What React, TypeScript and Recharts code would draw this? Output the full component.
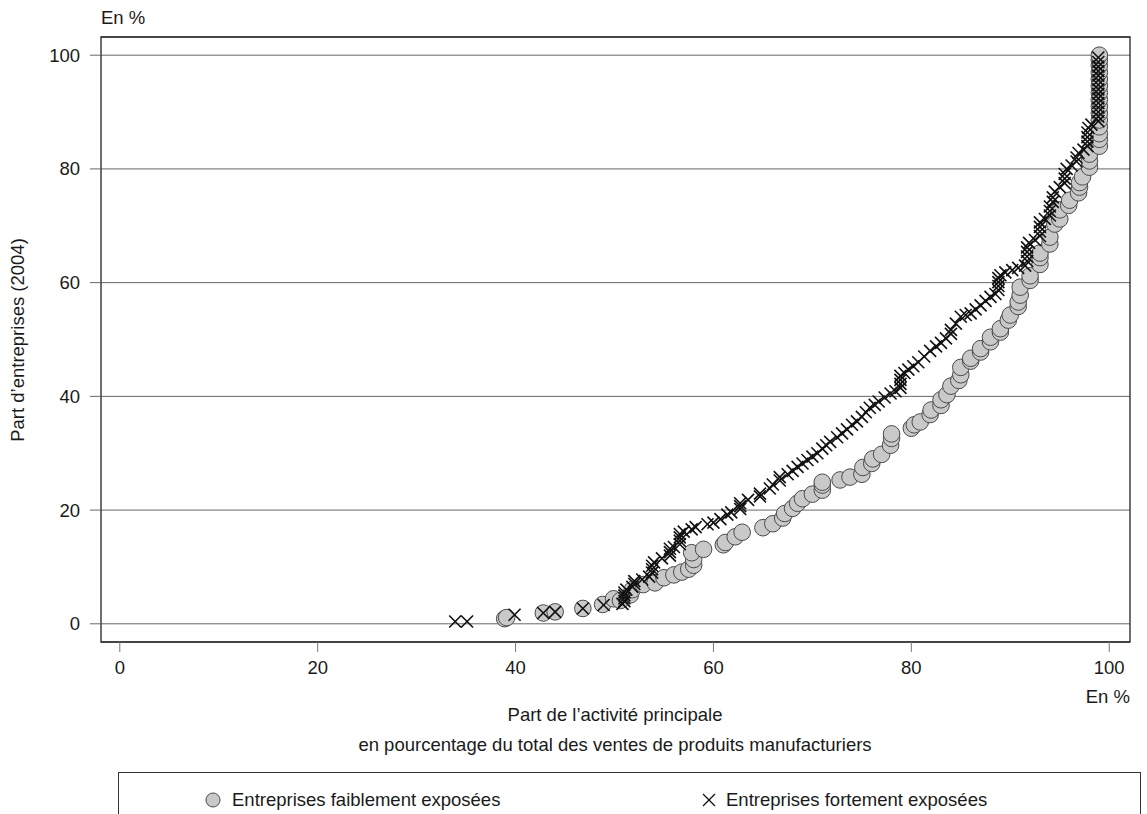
import React from "react";
import {
  ScatterChart,
  Scatter,
  XAxis,
  YAxis,
  CartesianGrid,
  ReferenceArea,
} from "recharts";

// [part de l'activité principale, part d'entreprises]
const faibles: [number, number][] = [
  [38.9, 0.9], [39.1, 1.1], [42.8, 1.9], [44, 2.1], [46.8, 2.7], [48.8, 3.4],
  [49.9, 4.4], [50.6, 4.1], [51.6, 5.1], [51.8, 6], [52.9, 6.9], [54.1, 7.2],
  [55, 8.1], [56, 8.6], [56.8, 9.1], [57.5, 9.6], [58, 10.3], [58, 11.3],
  [57.8, 12.5], [59, 13.1], [61, 13.9], [61.2, 14.3], [62.2, 15.3], [62.9, 16.1],
  [65, 16.9], [66, 17.6], [67, 18.6], [67.2, 19.4], [68, 20.3], [68.5, 21.2],
  [69, 22], [70, 22.8], [71, 23.5], [71, 24.4], [71, 24.9], [72.8, 25.3],
  [73.8, 25.8], [75, 26.3], [75.1, 27.5], [76, 28.2], [76.1, 29], [77, 29.8],
  [77.9, 31.4], [78, 32.6], [78, 33.4], [80, 34.4], [80.3, 35], [80.9, 35.5],
  [81.9, 36.8], [82, 37.6], [83, 38.4], [83, 39.4], [83.6, 40.3], [84, 41.8],
  [84.8, 42.8], [85, 43.8], [85, 45.1], [86, 46.2], [86, 46.7], [87, 47.8],
  [87, 48.4], [88, 49.6], [88, 50.4], [89, 51.3], [89, 51.9], [89.8, 53.4],
  [90, 54.3], [90.8, 55.8], [90.8, 56.6], [91, 57.8], [91, 59.2], [92, 60.4],
  [92, 61.2], [93, 63.2], [93, 64.4], [93, 65.2], [94, 66.8], [94, 68],
  [94.5, 70.3], [95, 71.2], [95, 72.8], [95.9, 73.6], [96, 74.5], [96.9, 75.8],
  [97, 76.8], [97, 77.6], [97.3, 78.6], [98, 80.3], [98, 81.4], [98, 82.6],
  [99, 84], [99, 85.2], [99, 86.2], [99, 87.4], [99, 88.6], [99, 89.8],
  [99, 91], [99, 92.2], [99, 93.4], [99, 94.6], [99, 95.8], [99, 97],
  [99, 98.2], [99, 99.2], [99, 100],
];

const fortes: [number, number][] = [
  [33.9, 0.4], [35.1, 0.4], [39.9, 1.6], [42.8, 1.9], [44, 2.1], [46.8, 2.7],
  [48.9, 3.3], [50.8, 3.5], [51, 4], [51, 4.5], [51, 5], [51, 5.5],
  [51.2, 6], [51.8, 6.5], [52, 7], [52, 7.5], [52.8, 7.8], [53.5, 8.3],
  [53.8, 9], [53.8, 9.6], [53.8, 10.2], [54, 10.8], [54.8, 11.5], [55.6, 12],
  [55.6, 12.6], [55.6, 13.2], [56, 13.5], [56.6, 14], [56.6, 14.6], [56.6, 15.2],
  [56.6, 15.8], [57, 16.2], [57.8, 16.6], [58.2, 17], [59.4, 17.5], [60, 17.8],
  [60.7, 18.4], [61.4, 19.2], [61.8, 19.6], [62.7, 20.2], [62.7, 20.7], [62.7, 21.2],
  [63.5, 21.8], [64.7, 22.4], [64.7, 22.9], [65.7, 23.8], [66, 24.5], [66.7, 25.2],
  [66.7, 25.8], [67.5, 26.3], [68, 26.9], [68.5, 27.6], [69, 28.2], [69.5, 28.8],
  [70, 29.4], [70.5, 30], [71, 30.8], [71.4, 31.4], [71.8, 32], [72.5, 32.8],
  [73, 33.5], [73.5, 34.2], [74, 35], [74.5, 35.6], [75, 36.4], [75.4, 37.2],
  [75.8, 38], [76.3, 38.5], [76.7, 39.1], [77.3, 39.8], [77.9, 40.5], [78.4, 40.9],
  [78.9, 41.5], [78.9, 42.2], [78.9, 42.9], [78.9, 43.6], [79.3, 44.1], [79.7, 44.7],
  [80.2, 45.3], [80.7, 46], [81.3, 47], [81.9, 48], [82.5, 48.8], [83, 49.4],
  [83.5, 50.2], [84, 51], [84, 51.7], [84.5, 52.8], [85, 54], [85.5, 54.3],
  [86, 54.6], [86.5, 55.3], [87, 56], [87.5, 56.8], [88, 57.5], [88.5, 58],
  [88.8, 58.7], [88.8, 59.4], [88.8, 60.1], [88.8, 60.8], [89, 61.3], [89.5, 61.8],
  [90.2, 62.2], [90.8, 62.6], [91.5, 63], [91.7, 63.8], [91.7, 64.6], [91.7, 65.4],
  [91.7, 66.2], [91.9, 67], [92.5, 67.5], [93, 68.2], [93, 69], [93, 69.8],
  [93, 70.6], [93.5, 71.2], [94, 71.8], [94, 72.6], [94, 73.4], [94.3, 74.2],
  [94.3, 75], [94.5, 76], [95, 76.8], [95.5, 77.5], [95.5, 78.3], [95.5, 79.1],
  [95.7, 80], [96.2, 80.6], [96.7, 81.3], [96.7, 82], [96.9, 82.8], [97.4, 83.4],
  [97.8, 84], [97.8, 84.8], [97.8, 85.6], [97.8, 86.4], [97.9, 87.2], [98.2, 87.8],
  [98.9, 88.4], [98.9, 89.2], [98.9, 90], [98.9, 90.8], [98.9, 91.6], [98.9, 92.4],
  [98.9, 93.2], [98.9, 94], [98.9, 94.8], [98.9, 95.6], [98.9, 96.4], [98.9, 97.2],
  [98.9, 98], [98.9, 98.8], [98.9, 99.6],
];

const xTicks = [0, 20, 40, 60, 80, 100];
const yTicks = [0, 20, 40, 60, 80, 100];

const FONT = "'Liberation Sans', Arial, Helvetica, sans-serif";
const FS = 18.5;
const txt = "#1a1a1a";

const Circle = (props: any) => (
  <circle cx={props.cx} cy={props.cy} r={8.3} fill="#c9c9c9" stroke="#4a4a4a" strokeWidth={1} />
);

const Cross = (props: any) => {
  const s = 6;
  const { cx, cy } = props;
  return (
    <g stroke="#111" strokeWidth={1.6}>
      <line x1={cx - s} y1={cy - s} x2={cx + s} y2={cy + s} />
      <line x1={cx - s} y1={cy + s} x2={cx + s} y2={cy - s} />
    </g>
  );
};

const abs = (style: React.CSSProperties): React.CSSProperties => ({
  position: "absolute",
  fontFamily: FONT,
  fontSize: FS,
  lineHeight: "22px",
  color: txt,
  whiteSpace: "nowrap",
  ...style,
});

export default function App() {
  const faiblesData = faibles.map(([x, y]) => ({ x, y }));
  const fortesData = fortes.map(([x, y]) => ({ x, y }));
  const tick = { fontFamily: FONT, fontSize: FS, fill: txt };

  return (
    <div style={{ position: "absolute", left: 0, top: 0, width: 1147, height: 814, background: "#fff", overflow: "hidden" }}>
      <ScatterChart
        width={1147}
        height={814}
        margin={{ top: 37, right: 17, bottom: 142, left: 0 }}
      >
        <CartesianGrid horizontal vertical={false} stroke="#666" strokeWidth={1} />
        <XAxis
          type="number"
          dataKey="x"
          domain={[-1.9, 102.1]}
          ticks={xTicks}
          interval={0}
          allowDataOverflow
          height={30}
          axisLine={false}
          tickSize={10}
          tickMargin={9}
          tickLine={{ stroke: "#777" }}
          tick={tick}
        />
        <YAxis
          type="number"
          dataKey="y"
          domain={[-3.2, 103.2]}
          ticks={yTicks}
          interval={0}
          allowDataOverflow
          width={101}
          axisLine={false}
          tickSize={11}
          tickMargin={10}
          tickLine={{ stroke: "#666" }}
          tick={tick}
        />
        <ReferenceArea
          x1={-1.9}
          x2={102.1}
          y1={-3.2}
          y2={103.2}
          fill="none"
          stroke="#222"
          strokeWidth={1.3}
          fillOpacity={0}
        />
        <Scatter
          name="Entreprises faiblement exposées"
          data={faiblesData}
          shape={Circle}
          isAnimationActive={false}
        />
        <Scatter
          name="Entreprises fortement exposées"
          data={fortesData}
          shape={Cross}
          isAnimationActive={false}
        />
      </ScatterChart>

      <div style={abs({ left: 101, top: 7 })}>En %</div>
      <div style={abs({ right: 17, top: 686 })}>En %</div>
      <div
        style={abs({
          left: 18,
          top: 340,
          transform: "translate(-50%, -50%) rotate(-90deg)",
        })}
      >
        Part d’entreprises (2004)
      </div>
      <div style={abs({ left: 615, top: 704, transform: "translateX(-50%)" })}>
        Part de l’activité principale
      </div>
      <div style={abs({ left: 615, top: 734, transform: "translateX(-50%)" })}>
        en pourcentage du total des ventes de produits manufacturiers
      </div>

      <div
        style={{
          position: "absolute",
          left: 118,
          top: 772,
          width: 1021,
          height: 80,
          border: "1px solid #333",
        }}
      />
      <svg style={{ position: "absolute", left: 0, top: 0 }} width={1147} height={814}>
        <circle cx={213} cy={800} r={7} fill="#c9c9c9" stroke="#4a4a4a" strokeWidth={1} />
        <g stroke="#111" strokeWidth={1.3}>
          <line x1={703} y1={794} x2={715} y2={806} />
          <line x1={703} y1={806} x2={715} y2={794} />
        </g>
      </svg>
      <div style={abs({ left: 232, top: 789 })}>Entreprises faiblement exposées</div>
      <div style={abs({ left: 726, top: 789 })}>Entreprises fortement exposées</div>
    </div>
  );
}
